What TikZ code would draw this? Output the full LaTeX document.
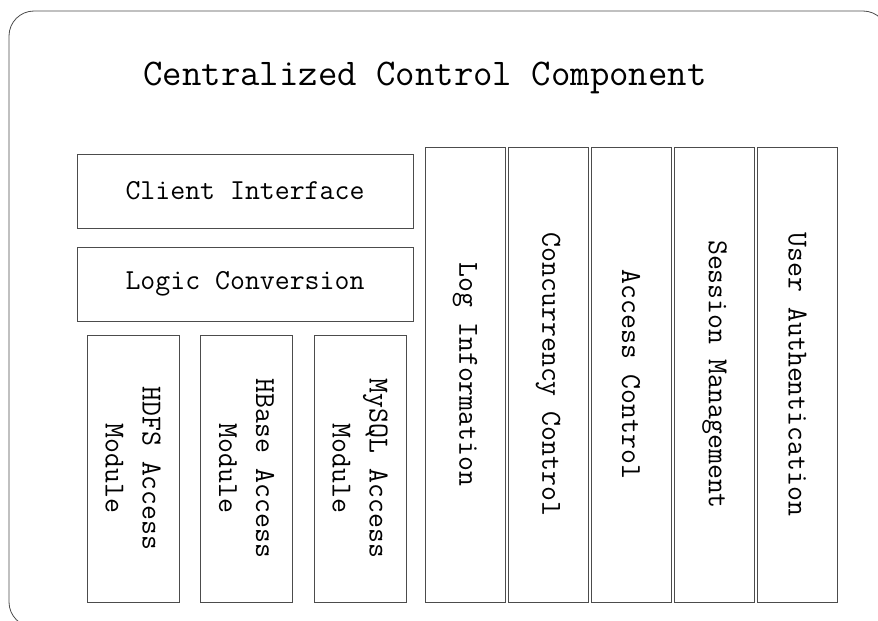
\documentclass[tikz,border=0pt]{standalone}
\usepackage{fontspec}
\begin{document}
\begin{tikzpicture}[x=1pt, y=-1pt,
    txt/.style={font=\ttfamily\fontsize{29}{37}\selectfont},
    layerbox/.style={txt, draw=black!70, line width=0.8pt, minimum width=336pt, minimum height=74pt, inner sep=0pt},
    modbox/.style={txt, draw=black!70, line width=0.8pt, rotate=-90, align=center, minimum width=267pt, minimum height=92pt, inner sep=0pt},
    sidebox/.style={txt, draw=black!70, line width=0.8pt, rotate=-90, minimum width=455pt, minimum height=80pt, inner sep=0pt}]

    \useasboundingbox (0,0) rectangle (878,621);
    \clip (0,0) rectangle (878,621);

    % outer frame
    \draw[black!70, line width=0.8pt, rounded corners=25pt] (9,11) rectangle (888,627);

    \node[font=\ttfamily\fontsize{37.7}{45}\selectfont, anchor=base] (title) at (425,85) {Centralized Control Component};

    \node[layerbox] (client) at (245,191) {Client Interface};
    \node[layerbox] (logic) at (245,284) {Logic Conversion};

    % access modules
    \foreach \x/\name/\store in {133/hdfs/HDFS, 246.5/hbase/HBase, 360/mysql/MySQL} {%
        \node[modbox] (\name) at (\x,468.5) {\store\ Access\\Module};%
    }

    % control columns
    \foreach \x/\name/\label in {465/loginfo/Log Information, 548/concur/Concurrency Control, 631/access/Access Control, 714.5/session/Session Management, 797.5/userauth/User Authentication} {%
        \node[sidebox] (\name) at (\x,374.5) {\label};%
    }

\end{tikzpicture}
\end{document}
